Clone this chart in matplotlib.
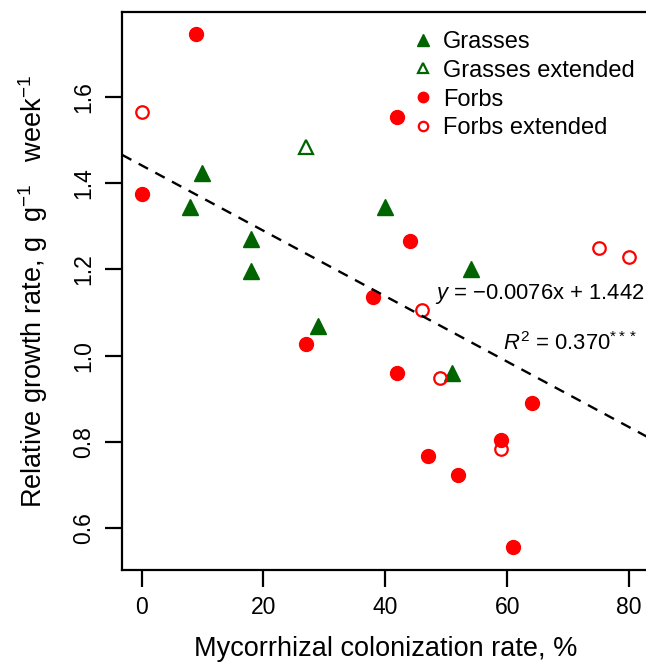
import matplotlib
matplotlib.use("Agg")
import matplotlib.pyplot as plt

plt.rcParams['font.family'] = ['Liberation Sans', 'DejaVu Sans']
plt.rcParams['mathtext.fontset'] = 'custom'
plt.rcParams['mathtext.rm'] = 'Liberation Sans'
plt.rcParams['mathtext.it'] = 'Liberation Sans:italic'

# colonization rate (%) and relative growth rate (g g-1 week-1)
grass_x = [8, 10, 18, 18, 29, 40, 54, 51]
grass_y = [1.345, 1.424, 1.271, 1.197, 1.068, 1.345, 1.202, 0.960]

grass_ext_x = [27]
grass_ext_y = [1.484]

forb_x = [9, 0, 42, 44, 38, 27, 42, 64, 59, 47, 52, 61]
forb_y = [1.747, 1.375, 1.553, 1.267, 1.135, 1.027, 0.960, 0.891, 0.803, 0.766, 0.722, 0.555]

forb_ext_x = [0, 46, 49, 59, 75, 80]
forb_ext_y = [1.565, 1.107, 0.947, 0.783, 1.251, 1.230]

slope = -0.0076
intercept = 1.442

green = '#006400'
red = '#ff0000'

fig = plt.figure(figsize=(6.46, 6.64), dpi=100)
ax = fig.add_axes([122 / 646, 94 / 664, (648.5 - 122) / 646, (570 - 12) / 664])

ax.plot(grass_x, grass_y, '^', color=green, ms=11, mec=green, label='Grasses', ls='none')
ax.plot(grass_ext_x, grass_ext_y, '^', mfc='none', mec=green, ms=10, mew=1.6,
        label='Grasses extended', ls='none')
ax.plot(forb_x, forb_y, 'o', color=red, ms=10, label='Forbs', ls='none')
ax.plot(forb_ext_x, forb_ext_y, 'o', mfc='none', mec=red, ms=9, mew=1.6,
        label='Forbs extended', ls='none')

ax.axline((0, intercept), slope=slope, color='black', lw=1.7, ls=(0, (4.5, 3.5)))

ax.set_xlim(-3.2, 83.2)
ax.set_ylim(0.502, 1.798)
ax.set_xticks([0, 20, 40, 60, 80])
ax.set_yticks([0.6, 0.8, 1.0, 1.2, 1.4, 1.6])
ax.set_yticklabels(['0.6', '0.8', '1.0', '1.2', '1.4', '1.6'])
ax.tick_params(labelsize=16.5, length=12, width=1.6, pad=7)
plt.setp(ax.get_yticklabels(), rotation=90, va='center')
for s in ax.spines.values():
    s.set_linewidth(1.6)

ax.set_xlabel('Mycorrhizal colonization rate, %', fontsize=19.5, labelpad=12)
ax.set_ylabel(r'Relative growth rate, g  g$^{-1}$   week$^{-1}$', fontsize=19.5, labelpad=16)

ax.text(48.2, 1.142, r'$y$ = $-$0.0076x + 1.442', fontsize=15.8, ha='left', va='center')
ax.text(59.3, 1.029, r'$R^2$ = 0.370$^{***}$', fontsize=15.8, ha='left', va='center')

leg = ax.legend(loc='upper left', bbox_to_anchor=(0.511, 1.0), frameon=False,
                fontsize=17, handletextpad=0.3, labelspacing=0.29,
                markerscale=0.75, handlelength=1.1, borderaxespad=0.4)

fig.savefig('out.png', dpi=100)
